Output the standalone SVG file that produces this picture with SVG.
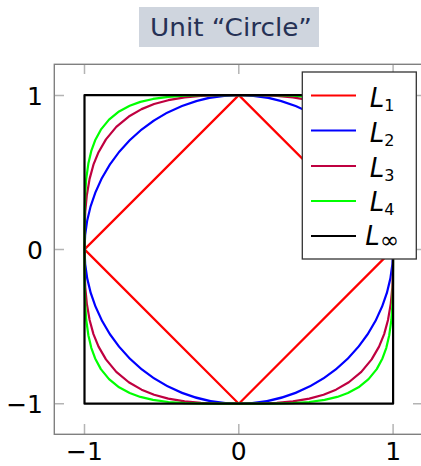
<svg xmlns="http://www.w3.org/2000/svg" xmlns:xlink="http://www.w3.org/1999/xlink" width="421" height="466" viewBox="0 0 421 466">
<style>
.lbl{font-family:"DejaVu Sans","Liberation Sans",sans-serif;font-size:25px;fill:#000}
.leg{font-family:"DejaVu Sans","Liberation Sans",sans-serif;font-size:26px;font-style:italic;fill:#000}
.sub{font-size:16px;font-style:normal}
.inf{font-size:23px;font-style:normal}
.tick{stroke:#b4b4b4;stroke-width:1.5;fill:none}
.crv{fill:none;stroke-width:2.2;vector-effect:non-scaling-stroke;stroke-linejoin:round}
.ll{stroke-width:2}
</style>
<rect width="421" height="466" fill="#fff"/>
<g id="title">
<rect x="139" y="7" width="180" height="40" fill="#cfd5de"/>
<text x="150" y="36" textLength="162" lengthAdjust="spacingAndGlyphs" style="font-family:'DejaVu Sans','Liberation Sans',sans-serif;font-size:25px;fill:#263155">Unit “Circle”</text>
</g>
<g id="axis">
<g class="tick">
<path d="M54 95.4H64M54 249.4H64M54 403.7H64M423 95.4H413M423 249.4H413M423 403.7H413"/>
<path d="M84.5 434V424M238.8 434V424M393.1 434V424M84.5 64V74M238.8 64V74M393.1 64V74"/>
</g>
<rect x="54.3" y="64.3" width="369" height="370" fill="none" stroke="#808080" stroke-width="1.4"/>
<text class="lbl" x="43" y="105" text-anchor="end">1</text>
<text class="lbl" x="43" y="259" text-anchor="end">0</text>
<text class="lbl" x="43" y="413" text-anchor="end">−1</text>
<text class="lbl" x="84.5" y="460" text-anchor="middle">−1</text>
<text class="lbl" x="238.8" y="460" text-anchor="middle">0</text>
<text class="lbl" x="393.1" y="460" text-anchor="middle">1</text>
</g>
<g id="curves" transform="translate(238.8,249.4) scale(154.3,-154.3)">
<path id="L1" class="crv" stroke="#ff0000" d="M1 0L0 1L-1 0L0 -1Z"/>
<circle id="L2" class="crv" stroke="#0000ff" cx="0" cy="0" r="1"/>
<path id="L3" class="crv" stroke="#bf0040" d="M1,0 .999,.140 .995,.246 .985,.351 .967,.457 .942,.549 .909,.630 .861,.713 .794,.794 .713,.861 .630,.909 .549,.942 .457,.967 .351,.985 .246,.995 .140,.999 0,1 -.140,.999 -.246,.995 -.351,.985 -.457,.967 -.549,.942 -.630,.909 -.713,.861 -.794,.794 -.861,.713 -.909,.630 -.942,.549 -.967,.457 -.985,.351 -.995,.246 -.999,.140 -1,0 -.999,-.140 -.995,-.246 -.985,-.351 -.967,-.457 -.942,-.549 -.909,-.630 -.861,-.713 -.794,-.794 -.713,-.861 -.630,-.909 -.549,-.942 -.457,-.967 -.351,-.985 -.246,-.995 -.140,-.999 0,-1 .140,-.999 .246,-.995 .351,-.985 .457,-.967 .549,-.942 .630,-.909 .713,-.861 .794,-.794 .861,-.713 .909,-.630 .942,-.549 .967,-.457 .985,-.351 .995,-.246 .999,-.140Z"/>
<path id="L4" class="crv" stroke="#00ff00" d="M1,0 .999,.229 .996,.349 .989,.456 .975,.556 .956,.638 .931,.707 .894,.776 .841,.841 .776,.894 .707,.931 .638,.956 .556,.975 .456,.989 .349,.996 .229,.999 0,1 -.229,.999 -.349,.996 -.456,.989 -.556,.975 -.638,.956 -.707,.931 -.776,.894 -.841,.841 -.894,.776 -.931,.707 -.956,.638 -.975,.556 -.989,.456 -.996,.349 -.999,.229 -1,0 -.999,-.229 -.996,-.349 -.989,-.456 -.975,-.556 -.956,-.638 -.931,-.707 -.894,-.776 -.841,-.841 -.776,-.894 -.707,-.931 -.638,-.956 -.556,-.975 -.456,-.989 -.349,-.996 -.229,-.999 0,-1 .229,-.999 .349,-.996 .456,-.989 .556,-.975 .638,-.956 .707,-.931 .776,-.894 .841,-.841 .894,-.776 .931,-.707 .956,-.638 .975,-.556 .989,-.456 .996,-.349 .999,-.229Z"/>
<rect id="Linf" class="crv" stroke="#000000" x="-1" y="-1" width="2" height="2"/>
</g>
<g id="legend">
<rect x="302.3" y="72" width="114" height="187" fill="#fff" stroke="#333" stroke-width="1.3"/>
<path class="ll" stroke="#ff0000" d="M311 95.5H356"/>
<path class="ll" stroke="#0000ff" d="M311 130.5H356"/>
<path class="ll" stroke="#bf0040" d="M311 166H356"/>
<path class="ll" stroke="#00ff00" d="M311 201H356"/>
<path class="ll" stroke="#000000" d="M311 236H356"/>
<text class="leg" x="382" y="107" text-anchor="middle">L<tspan class="sub" dy="4">1</tspan></text>
<text class="leg" x="382" y="142" text-anchor="middle">L<tspan class="sub" dy="4">2</tspan></text>
<text class="leg" x="382" y="176.5" text-anchor="middle">L<tspan class="sub" dy="4">3</tspan></text>
<text class="leg" x="382" y="210.5" text-anchor="middle">L<tspan class="sub" dy="4">4</tspan></text>
<text class="leg" x="382" y="245" text-anchor="middle">L<tspan class="inf" dy="3">∞</tspan></text>
</g>
</svg>
